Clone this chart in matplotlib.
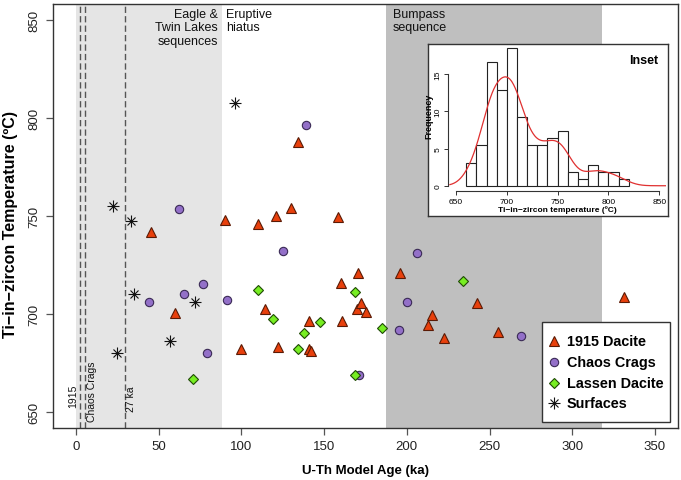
import numpy as np
import matplotlib
matplotlib.use('Agg')
import matplotlib.pyplot as plt
from matplotlib.lines import Line2D
from matplotlib.patches import Rectangle

plt.rcParams['font.family'] = ['Liberation Sans', 'DejaVu Sans']

# ---------------- data ----------------
dacite1915_age = [45.3, 59.8, 90.3, 99.4, 109.7, 114.4, 120.7, 122.1, 130.0, 133.9,
                  140.9, 141.0, 142.2, 158.4, 160.4, 160.6, 170.1, 170.3, 172.4, 175.6,
                  195.7, 212.6, 215.0, 222.7, 242.4, 255.1, 331.1]
dacite1915_temp = [742.0, 700.7, 747.8, 682.1, 745.8, 702.6, 749.8, 683.3, 753.9, 787.9,
                   696.6, 682.4, 681.2, 749.6, 715.7, 696.6, 702.6, 720.8, 705.6, 700.9,
                   720.8, 694.7, 699.6, 687.6, 705.8, 690.7, 708.5]

chaos_age = [44.0, 62.3, 65.1, 76.6, 79.4, 91.1, 125.4, 138.9, 170.9, 195.3, 200.4, 206.4, 268.9]
chaos_temp = [706.3, 753.4, 710.2, 715.3, 680.1, 707.1, 732.3, 796.6, 668.9, 692.0, 706.3, 731.3, 689.1]

lassen_age = [70.6, 109.9, 119.3, 134.2, 138.1, 147.5, 168.5, 168.7, 185.2, 234.2]
lassen_temp = [667.0, 712.1, 697.5, 682.0, 690.2, 696.1, 668.9, 711.1, 693.0, 717.0]

surf_age = [22.4, 24.8, 33.1, 35.1, 56.7, 71.6, 95.9]
surf_temp = [755.3, 680.1, 747.3, 710.2, 686.1, 706.1, 807.8]

legend_labels = ['1915 Dacite', 'Chaos Crags', 'Lassen Dacite', 'Surfaces']

# shaded periods (ka) and reference eruption lines
eagle_span = (0, 88.5)
bumpass_span = (187.5, 318)
ref_lines = [2.6, 5.3, 29.3]

# inset histogram
hist_edges = list(range(660, 830, 10))
hist_freq = [3.0, 5.5, 16.6, 12.9, 18.5, 9.2, 5.5, 5.5, 6.4, 7.3, 1.8, 0.9, 2.8, 1.8, 1.8, 0.9]

xticks = [0, 50, 100, 150, 200, 250, 300, 350]
yticks = [650, 700, 750, 800, 850]

# ---------------- figure ----------------
W, H = 681, 481
fig = plt.figure(figsize=(W / 100, H / 100), dpi=100)

def box(l, t, r, b):
    return [l / W, 1 - b / H, (r - l) / W, (b - t) / H]

def fpt(px, py):
    return px / W, 1 - py / H

axc = '#333333'
ax = fig.add_axes(box(53, 5, 678, 429))
ax.set_xlim(-14, 364)
ax.set_ylim(642, 858)
for s in ax.spines.values():
    s.set_color(axc)
    s.set_linewidth(1.0)

ax.axvspan(*eagle_span, color='#e5e5e5', zorder=0, lw=0)
ax.axvspan(*bumpass_span, color='#bfbfbf', zorder=0, lw=0)
for x in ref_lines:
    ax.axvline(x, color='#555555', lw=1.0, dashes=(4.5, 2.3), zorder=1)

ax.set_xticks(xticks)
ax.set_yticks(yticks)
ax.set_yticklabels([str(v) for v in yticks], rotation=90, va='center')
ax.tick_params(axis='both', direction='out', length=5, width=0.9, color='#555555',
               labelsize=9.5, labelcolor='#222222')
ax.tick_params(axis='x', pad=4)
ax.tick_params(axis='y', pad=4)

ax.set_xlabel('U-Th Model Age (ka)', fontsize=9.5, fontweight='bold', labelpad=8)
yx, yy = fpt(11, 225)
fig.text(yx, yy, 'Ti\u2212in\u2212zircon Temperature (ºC)', rotation=90, ha='center', va='center',
         fontsize=11.5, fontweight='bold')

# annotations
ax.text(85.7, 856, 'Eagle &\nTwin Lakes\nsequences', ha='right', va='top', multialignment='right',
        fontsize=9, linespacing=1.15, color='#111111')
ax.text(90.9, 856, 'Eruptive\nhiatus', ha='left', va='top', fontsize=9, linespacing=1.15, color='#111111')
ax.text(191.5, 856, 'Bumpass\nsequence', ha='left', va='top', fontsize=9, linespacing=1.15, color='#111111')
ax.text(-1.7, 658.7, '1915', rotation=90, ha='center', va='center', fontsize=7.5, color='#111111')
ax.text(9.8, 661.2, 'Chaos Crags', rotation=90, ha='center', va='center', fontsize=7.5, color='#111111')
ax.text(33.4, 657.1, '27 ka', rotation=90, ha='center', va='center', fontsize=7.5, color='#111111')

# points
tri_kw = dict(ls='none', marker='^', ms=7, mfc='#e8400c', mec='#5a1a05', mew=0.8)
cir_kw = dict(ls='none', marker='o', ms=6, mfc='#9370c8', mec='#3a2a55', mew=0.8)
dia_kw = dict(ls='none', marker='D', ms=5.2, mfc='#77ee22', mec='#1f4a05', mew=0.8)
plus_kw = dict(ls='none', marker='+', ms=8, color='#111111', mew=0.8)
x_kw = dict(ls='none', marker='x', ms=6, color='#111111', mew=0.8)

ax.plot(dacite1915_age, dacite1915_temp, zorder=3, **tri_kw)
ax.plot(chaos_age, chaos_temp, zorder=3, **cir_kw)
ax.plot(lassen_age, lassen_temp, zorder=3, **dia_kw)
ax.plot(surf_age, surf_temp, zorder=3, **plus_kw)
ax.plot(surf_age, surf_temp, zorder=3, **x_kw)

# legend (drawn as a framed key)
l, t = fpt(542, 323)
r, b = fpt(670, 423)
fig.add_artist(Rectangle((l, b), r - l, t - b, transform=fig.transFigure, facecolor='white',
                         edgecolor=axc, lw=1.0, zorder=6))
rows = [342, 363, 384, 404]
styles = [[tri_kw], [cir_kw], [dia_kw], [plus_kw, x_kw]]
for lab, py, sty in zip(legend_labels, rows, styles):
    mx, my = fpt(554, py)
    for kw in sty:
        fig.add_artist(Line2D([mx], [my], transform=fig.transFigure, zorder=7, **kw))
    tx, ty = fpt(567, py)
    fig.text(tx, ty, lab, ha='left', va='center', fontsize=10.4, fontweight='bold', zorder=7)

# ---------------- inset ----------------
axb = fig.add_axes(box(428, 45, 668, 217), zorder=4)
axb.set_xticks([]); axb.set_yticks([])
axb.set_facecolor('white')
for s in axb.spines.values():
    s.set_color(axc)
    s.set_linewidth(1.0)

axi = fig.add_axes(box(447.9, 39.7, 667.4, 192.4), zorder=5)
axi.patch.set_alpha(0)
axi.set_xlim(642, 858)
axi.set_ylim(-0.76, 19.76)
axi.bar(hist_edges[:-1], hist_freq, width=10, align='edge', color='white', edgecolor='#222222', lw=0.8)

centers = np.array(hist_edges[:-1]) + 5
wts = np.array(hist_freq)
bw = 10.0
grid = np.linspace(644, 856, 400)
dens = (wts[None, :] * np.exp(-0.5 * ((grid[:, None] - centers[None, :]) / bw) ** 2)).sum(1) / (bw * np.sqrt(2 * np.pi))
axi.plot(grid, dens * 10, color='#e03030', lw=0.9)

for s in ['top', 'right']:
    axi.spines[s].set_visible(False)
axi.spines['left'].set_bounds(0, 15)
axi.spines['bottom'].set_bounds(650, 850)
for s in ['left', 'bottom']:
    axi.spines[s].set_color('#333333')
    axi.spines[s].set_linewidth(0.8)
axi.set_xticks([650, 700, 750, 800, 850])
axi.set_yticks([0, 5, 10, 15])
axi.set_yticklabels(['0', '5', '10', '15'], rotation=90, va='center')
axi.tick_params(direction='out', length=3, width=0.7, labelsize=6, pad=1.5, color='#333333')
axi.set_xlabel('Ti\u2212in\u2212zircon temperature (ºC)', fontsize=6, fontweight='bold', labelpad=0.5)
axi.set_ylabel('Frequency', fontsize=6.4, fontweight='bold', labelpad=1)
fig.text(644 / W, 1 - 61 / H, 'Inset', ha='center', va='center', fontsize=9, fontweight='bold', zorder=10)

fig.savefig('out.png', dpi=100)
